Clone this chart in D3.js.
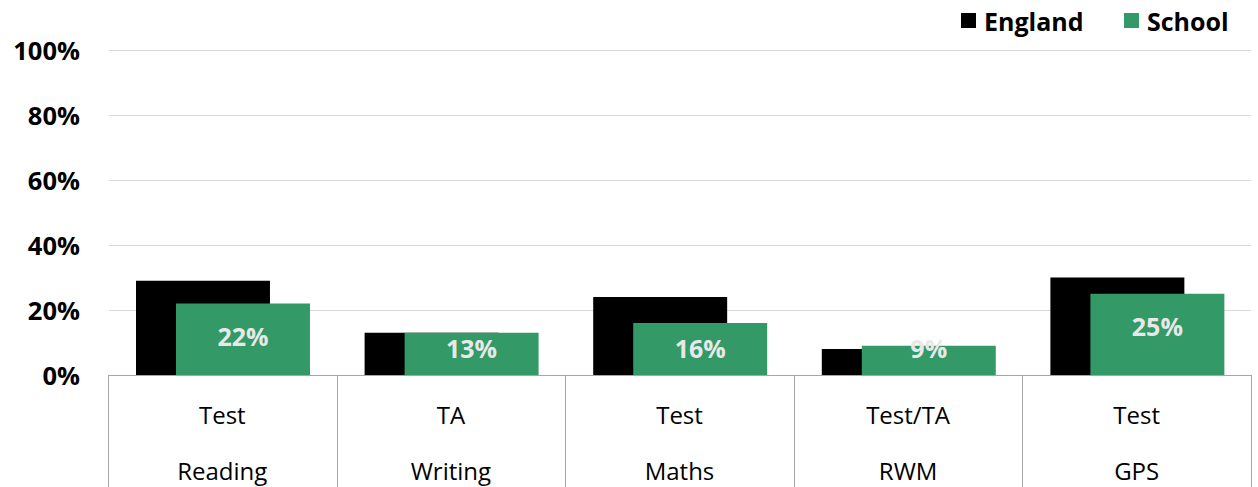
<!DOCTYPE html>
<html>
<head>
<meta charset="utf-8">
<script src="https://cdn.jsdelivr.net/npm/d3@7"></script>
<style>
  html, body { margin: 0; padding: 0; background: #fff; }
  svg { display: block; font-family: "Open Sans", "Noto Sans", sans-serif; }
</style>
</head>
<body>
<svg id="chart" width="1258" height="487"></svg>
<script>
const innerLabels = ["Test", "TA", "Test", "Test/TA", "Test"];
const categories = ["Reading", "Writing", "Maths", "RWM", "GPS"];
const england = [29, 13, 24, 8, 30];
const school = [22, 13, 16, 9, 25];
const yTicks = [0, 20, 40, 60, 80, 100];
const seriesNames = ["England", "School"];
const colors = { England: "#000000", School: "#339966" };

(function () {
const svg = d3.select("#chart");
const plotLeft = 108, plotRight = 1251, plotTop = 50, plotBottom = 375;

const x = d3.scaleBand().domain(categories).range([plotLeft, plotRight]).padding(0);
const y = d3.scaleLinear().domain([0, 100]).range([plotBottom, plotTop]);
const bw = x.bandwidth();
const barW = bw * 0.586;
const engOff = bw * 0.1225;
const schOff = bw * 0.2975;

// gridlines
svg.append("g").selectAll("line").data(yTicks.filter(d => d > 0)).join("line")
  .attr("x1", plotLeft + 1).attr("x2", plotRight)
  .attr("y1", d => Math.round(y(d)) + 0.5).attr("y2", d => Math.round(y(d)) + 0.5)
  .attr("stroke", "#d9d9d9").attr("stroke-width", 1);

// y tick labels
svg.append("g").selectAll("text").data(yTicks).join("text")
  .attr("x", 80).attr("y", d => y(d))
  .attr("text-anchor", "end").attr("dominant-baseline", "central")
  .attr("font-size", 25.5).attr("font-weight", 700).attr("fill", "#000")
  .text(d => d + "%");

// England bars
svg.append("g").selectAll("rect").data(categories).join("rect")
  .attr("x", (c) => x(c) + engOff).attr("width", barW)
  .attr("y", (c, i) => y(england[i])).attr("height", (c, i) => y(0) - y(england[i]))
  .attr("fill", colors.England);

// School bars
svg.append("g").selectAll("rect").data(categories).join("rect")
  .attr("x", (c) => x(c) + schOff).attr("width", barW)
  .attr("y", (c, i) => y(school[i])).attr("height", (c, i) => y(0) - y(school[i]))
  .attr("fill", colors.School);

// School value labels
svg.append("g").selectAll("text").data(categories).join("text")
  .attr("x", c => x(c) + schOff + barW / 2)
  .attr("y", (c, i) => Math.min(y(school[i]) + 32, 348))
  .attr("text-anchor", "middle").attr("dominant-baseline", "central")
  .attr("font-size", 25).attr("font-weight", 700).attr("fill", "#e8e8e8")
  .text((c, i) => school[i] + "%");

// axis baseline
svg.append("line").attr("x1", plotLeft).attr("x2", plotRight)
  .attr("y1", plotBottom + 0.5).attr("y2", plotBottom + 0.5)
  .attr("stroke", "#a6a6a6").attr("stroke-width", 1);

// category dividers
const bounds = categories.map(c => x(c)).concat([plotRight]);
svg.append("g").selectAll("line").data(bounds).join("line")
  .attr("x1", d => Math.round(d) + 0.5).attr("x2", d => Math.round(d) + 0.5)
  .attr("y1", plotBottom).attr("y2", 487)
  .attr("stroke", "#a6a6a6").attr("stroke-width", 1);

// category labels (two levels)
svg.append("g").selectAll("text").data(innerLabels).join("text")
  .attr("x", (d, i) => x(categories[i]) + bw / 2).attr("y", 414)
  .attr("text-anchor", "middle").attr("dominant-baseline", "central")
  .attr("font-size", 24).attr("fill", "#000")
  .text(d => d);
svg.append("g").selectAll("text").data(categories).join("text")
  .attr("x", c => x(c) + bw / 2).attr("y", 470)
  .attr("text-anchor", "middle").attr("dominant-baseline", "central")
  .attr("font-size", 24).attr("fill", "#000")
  .text(d => d);

// legend
const legendX = [961, 1124];
const lg = svg.append("g").selectAll("g").data(seriesNames).join("g")
  .attr("transform", (d, i) => `translate(${legendX[i]},0)`);
lg.append("rect").attr("x", 0).attr("y", 13).attr("width", 15).attr("height", 15)
  .attr("fill", d => colors[d]);
lg.append("text").attr("x", 23).attr("y", 21)
  .attr("dominant-baseline", "central")
  .attr("font-size", 25).attr("font-weight", 700).attr("fill", "#000")
  .text(d => d);
})();
</script>
</body>
</html>
